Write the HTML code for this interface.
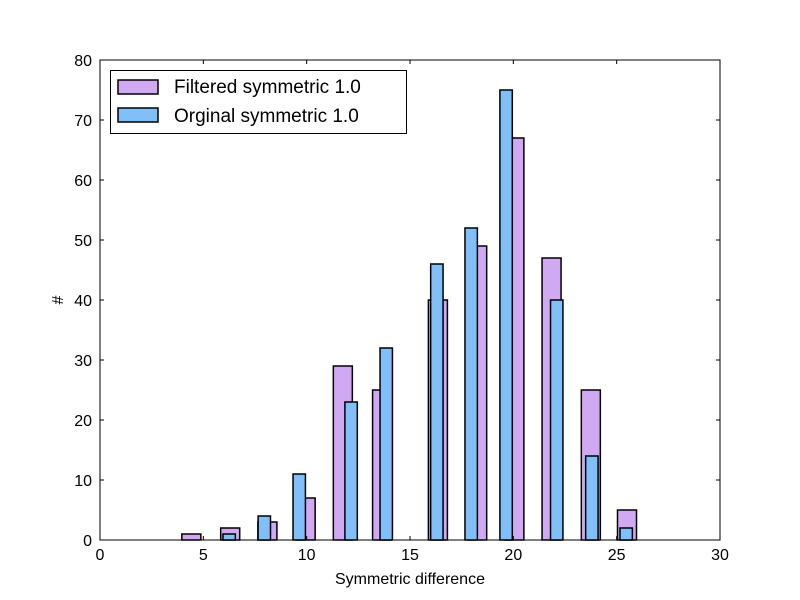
<!DOCTYPE html>
<html><head><meta charset="utf-8"><style>html,body{margin:0;padding:0;background:#fff;width:800px;height:600px;overflow:hidden}svg{display:block;font-family:"Liberation Sans","DejaVu Sans",sans-serif}</style></head>
<body>
<svg id="chart" width="800" height="600" viewBox="0 0 800 600">
<text x="410" y="584" text-anchor="middle" font-size="16">Symmetric difference</text>
<text x="0" y="0" text-anchor="middle" font-size="16" transform="translate(63,300) rotate(-90)">#</text>
</svg>
<script>
const filteredCenters=[4.42,6.3,8.1,9.95,11.75,13.65,16.35,18.25,20.05,21.85,23.75,25.5];
const filteredCounts=[1,2,3,7,29,25,40,49,67,47,25,5];
const originalCenters=[6.25,7.95,9.64,12.15,13.85,16.3,17.96,19.65,22.1,23.8,25.46];
const originalCounts=[1,4,11,23,32,46,52,75,40,14,2];
const xTicks=[0,5,10,15,20,25,30];
const yTicks=[0,10,20,30,40,50,60,70,80];
const L=100,R=720,T=60,B=540;
const sx=v=>L+(v/30)*(R-L), sy=v=>B-(v/80)*(B-T);
const svg=document.getElementById('chart');const NS='http://www.w3.org/2000/svg';
function mk(t,a,p){const e=document.createElementNS(NS,t);for(const k in a)e.setAttribute(k,a[k]);(p||svg).appendChild(e);return e;}
function bars(c,v,w,fill,name){const g=mk('g',{});


c.forEach((x,i)=>{const r=mk('rect',{x:sx(x-w/2),y:sy(v[i]),width:sx(w)-L,height:B-sy(v[i]),fill:fill,stroke:'#000','stroke-width':1.5},g);

});}
bars(filteredCenters,filteredCounts,0.92,'#d1a9f3','filtered');
bars(originalCenters,originalCounts,0.6,'#80bff8','original');
const ax=mk('rect',{x:L,y:T,width:R-L,height:B-T,fill:'none',stroke:'#000','stroke-width':1});


xTicks.forEach(t=>{const x=sx(t);mk('line',{x1:x,x2:x,y1:B,y2:B-4,stroke:'#000'});mk('line',{x1:x,x2:x,y1:T,y2:T+4,stroke:'#000'});
const tx=mk('text',{x:x,y:B+20,'text-anchor':'middle','font-size':16});tx.textContent=t;

});
yTicks.forEach(t=>{const y=sy(t);mk('line',{x1:L,x2:L+4,y1:y,y2:y,stroke:'#000'});mk('line',{x1:R,x2:R-4,y1:y,y2:y,stroke:'#000'});
const tx=mk('text',{x:L-8,y:y+6,'text-anchor':'end','font-size':16});tx.textContent=t;

});
const lg=mk('g',{});


mk('rect',{x:110.5,y:70.5,width:296,height:63,fill:'#fff',stroke:'#000'},lg);
mk('rect',{x:118,y:80,width:40,height:14,fill:'#d1a9f3',stroke:'#000','stroke-width':1.5},lg);
const t1=mk('text',{x:174,y:93,'font-size':19},lg);t1.textContent='Filtered symmetric 1.0';


mk('rect',{x:118,y:108,width:40,height:14,fill:'#80bff8',stroke:'#000','stroke-width':1.5},lg);
const t2=mk('text',{x:174,y:122,'font-size':19},lg);t2.textContent='Orginal symmetric 1.0';


</script>
</body></html>
